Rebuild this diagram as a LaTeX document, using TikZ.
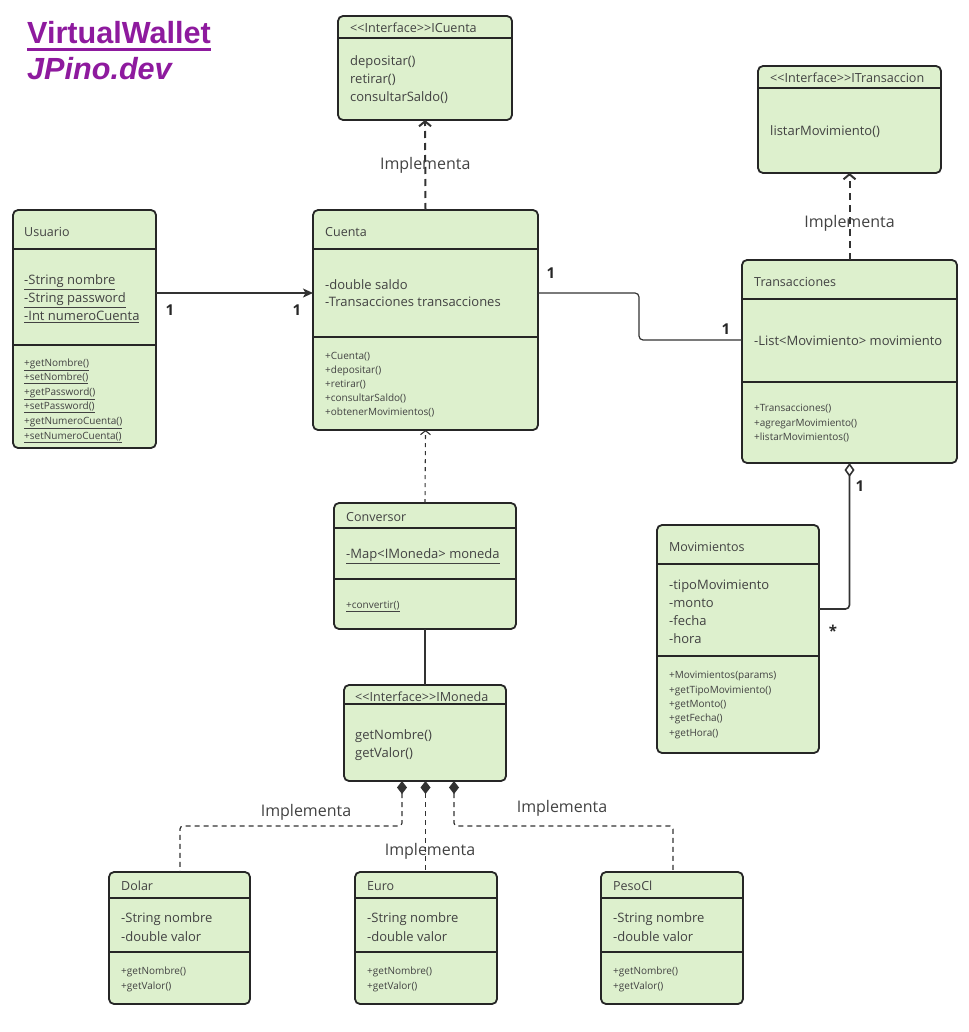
\documentclass[tikz,border=0pt]{standalone}
\usepackage{fontspec}
\setmainfont{Open Sans}
\newfontfamily\titlefont{Liberation Sans}
\usetikzlibrary{arrows.meta}
\definecolor{boxfill}{RGB}{221,240,205}
\definecolor{boxdraw}{RGB}{38,38,38}
\definecolor{txtc}{RGB}{66,66,66}
\definecolor{linec}{RGB}{50,50,50}
\definecolor{titlec}{RGB}{142,26,158}
\tikzset{
  cls/.style={draw=boxdraw, fill=boxfill, line width=1.8pt, rounded corners=5pt, inner sep=0pt, outer sep=0pt},
  div/.style={draw=boxdraw, line width=1.8pt},
  tx/.style={anchor=west, inner sep=0pt, text=txtc, text depth=0pt},
  ttl/.style={tx, text height=9pt, font=\fontsize{12.5}{14}\selectfont},
  hdr/.style={tx, text height=9pt, font=\fontsize{12.6}{14}\selectfont},
  att/.style={tx, text height=9.3pt, font=\fontsize{13}{15}\selectfont},
  mth/.style={tx, text height=7.2pt, font=\fontsize{10}{12}\selectfont},
  mult/.style={inner sep=0pt, text=boxdraw, font=\bfseries\fontsize{15}{17}\selectfont},
  lbl/.style={inner sep=0pt, text=txtc, font=\fontsize{16}{18}\selectfont},
  impl/.style={draw=linec, line width=2pt, dash pattern=on 7pt off 5pt, -{Straight Barb[length=5pt,width=12pt,line width=2pt]}},
  dep/.style={draw=linec, line width=1.1pt, dash pattern=on 4pt off 4pt, -{Straight Barb[length=4pt,width=10pt,line width=1.1pt]}},
  assoc/.style={draw=linec, line width=1.3pt},
  realz/.style={draw=linec, line width=1.2pt, dash pattern=on 5pt off 4pt, rounded corners=3pt},
}
\newcommand\clsbox[5]{\node[cls, minimum width={#4-#2}, minimum height={#5-#3}] (#1) at ({(#2+#4)/2},{(#3+#5)/2}) {};}
\newcommand\clsdiv[2]{\draw[div] (#1.west |- 0,#2) -- (#1.east |- 0,#2);}
\begin{document}
\begin{tikzpicture}[x=1pt,y=-1pt]
\useasboundingbox (0,0) rectangle (968,1032);

% title
\node[anchor=base west, inner sep=0pt, text=titlec, font=\titlefont\bfseries\fontsize{30.6}{34}\selectfont] (title1) at (27,44) {VirtualWallet};
\draw[titlec, line width=2.5pt] ([yshift=-5.5pt]title1.base west) -- ([yshift=-5.5pt]title1.base east);
\node[anchor=base west, inner sep=0pt, text=titlec, font=\titlefont\bfseries\itshape\fontsize{30.6}{34}\selectfont] (title2) at (27,80) {JPino.dev};

% ICuenta
\clsbox{icuenta}{338}{16}{512}{120}
\clsdiv{icuenta}{38}
\node[hdr] (icuenta-h) at (350,28) {<{}<Interface>{}>ICuenta};
\node[att] (icuenta-m1) at (350,61) {depositar()};
\node[att] (icuenta-m2) at (350,79) {retirar()};
\node[att] (icuenta-m3) at (350,97) {consultarSaldo()};

% ITransaccion
\clsbox{itrans}{758}{66}{941}{173}
\clsdiv{itrans}{88}
\node[hdr] (itrans-h) at (770,78) {<{}<Interface>{}>ITransaccion};
\node[att] (itrans-m1) at (770,131) {listarMovimiento()};

% Usuario
\clsbox{usuario}{13}{210}{156}{448}
\clsdiv{usuario}{249}
\clsdiv{usuario}{345}
\node[ttl] (usuario-t) at (24,232) {Usuario};
\node[att] (usuario-a1) at (24,280) {\underline{-String nombre}};
\node[att] (usuario-a2) at (24,298) {\underline{-String password}};
\node[att] (usuario-a3) at (24,316) {\underline{-Int numeroCuenta}};
\node[mth] (usuario-m1) at (24,363) {\underline{+getNombre()}};
\node[mth] (usuario-m2) at (24,377) {\underline{+setNombre()}};
\node[mth] (usuario-m3) at (24,392) {\underline{+getPassword()}};
\node[mth] (usuario-m4) at (24,406) {\underline{+setPassword()}};
\node[mth] (usuario-m5) at (24,421) {\underline{+getNumeroCuenta()}};
\node[mth] (usuario-m6) at (24,436) {\underline{+setNumeroCuenta()}};

% Cuenta
\clsbox{cuenta}{313}{210}{538}{430}
\clsdiv{cuenta}{249}
\clsdiv{cuenta}{337}
\node[ttl] (cuenta-t) at (325,232) {Cuenta};
\node[att] (cuenta-a1) at (325,285) {-double saldo};
\node[att] (cuenta-a2) at (325,302) {-Transacciones transacciones};
\node[mth] (cuenta-m1) at (325,356) {+Cuenta()};
\node[mth] (cuenta-m2) at (325,370) {+depositar()};
\node[mth] (cuenta-m3) at (325,384) {+retirar()};
\node[mth] (cuenta-m4) at (325,398) {+consultarSaldo()};
\node[mth] (cuenta-m5) at (325,412) {+obtenerMovimientos()};

% Transacciones
\clsbox{trans}{742}{260}{957}{463}
\clsdiv{trans}{299}
\clsdiv{trans}{382}
\node[ttl] (trans-t) at (754,282) {Transacciones};
\node[att] (trans-a1) at (754,341) {-List<Movimiento> movimiento};
\node[mth] (trans-m1) at (754,408) {+Transacciones()};
\node[mth] (trans-m2) at (754,423) {+agregarMovimiento()};
\node[mth] (trans-m3) at (754,437) {+listarMovimientos()};

% Conversor
\clsbox{conv}{334}{503}{516}{629}
\clsdiv{conv}{528}
\clsdiv{conv}{579}
\node[ttl] (conv-t) at (346,517) {Conversor};
\node[att] (conv-a1) at (346,554) {\underline{-Map<IMoneda> moneda}};
\node[mth] (conv-m1) at (346,605) {\underline{+convertir()}};

% IMoneda
\clsbox{imoneda}{344}{685}{506}{781}
\clsdiv{imoneda}{704}
\node[hdr] (imoneda-h) at (355,697) {<{}<Interface>{}>IMoneda};
\node[att] (imoneda-m1) at (355,735) {getNombre()};
\node[att] (imoneda-m2) at (355,753) {getValor()};

% Movimientos
\clsbox{movs}{657}{525}{819}{753}
\clsdiv{movs}{564}
\clsdiv{movs}{656}
\node[ttl] (movs-t) at (669,547) {Movimientos};
\node[att] (movs-a1) at (669,585) {-tipoMovimiento};
\node[att] (movs-a2) at (669,603) {-monto};
\node[att] (movs-a3) at (669,621) {-fecha};
\node[att] (movs-a4) at (669,639) {-hora};
\node[mth] (movs-m1) at (669,675) {+Movimientos(params)};
\node[mth] (movs-m2) at (669,690) {+getTipoMovimiento()};
\node[mth] (movs-m3) at (669,704) {+getMonto()};
\node[mth] (movs-m4) at (669,718) {+getFecha()};
\node[mth] (movs-m5) at (669,733) {+getHora()};

% Dolar
\clsbox{dolar}{109}{872}{250}{1004}
\clsdiv{dolar}{898}
\clsdiv{dolar}{952}
\node[ttl] (dolar-t) at (121,886) {Dolar};
\node[att] (dolar-a1) at (121,918) {-String nombre};
\node[att] (dolar-a2) at (121,937) {-double valor};
\node[mth] (dolar-m1) at (121,971) {+getNombre()};
\node[mth] (dolar-m2) at (121,986) {+getValor()};

% Euro
\clsbox{euro}{355}{872}{497}{1004}
\clsdiv{euro}{898}
\clsdiv{euro}{952}
\node[ttl] (euro-t) at (367,886) {Euro};
\node[att] (euro-a1) at (367,918) {-String nombre};
\node[att] (euro-a2) at (367,937) {-double valor};
\node[mth] (euro-m1) at (367,971) {+getNombre()};
\node[mth] (euro-m2) at (367,986) {+getValor()};

% PesoCl
\clsbox{peso}{601}{872}{743}{1004}
\clsdiv{peso}{898}
\clsdiv{peso}{952}
\node[ttl] (peso-t) at (613,886) {PesoCl};
\node[att] (peso-a1) at (613,918) {-String nombre};
\node[att] (peso-a2) at (613,937) {-double valor};
\node[mth] (peso-m1) at (613,971) {+getNombre()};
\node[mth] (peso-m2) at (613,986) {+getValor()};

% connectors
\draw[impl] (cuenta.north) -- node[lbl, pos=0.5] (lbl-ic) {Implementa} (icuenta.south);
\draw[impl] (trans.north) -- node[lbl, pos=0.425] (lbl-it) {Implementa} (itrans.south);
\draw[assoc, -{Stealth[length=10pt,width=9pt,inset=2.5pt]}] (usuario.east |- 0,293) -- (cuenta.west |- 0,293);
\node[mult] (m-u1) at (170,310) {1};
\node[mult] (m-u2) at (297,310) {1};
\draw[assoc, line width=1.2pt, rounded corners=4pt] (cuenta.east |- 0,293) -- (639,293) -- (639,340) -- (trans.west |- 0,340);
\node[mult] (m-c1) at (551,273) {1};
\node[mult] (m-t1) at (726,329) {1};
\draw[dep] (conv.north) -- (cuenta.south);
\draw[assoc, line width=1.1pt] (conv.south) -- (imoneda.north);
\draw[assoc, line width=1.6pt, rounded corners=4pt, {Diamond[open,length=14pt,width=10pt,line width=1.6pt]}-] (trans.south) -- (849.5,609) -- (movs.east |- 0,609);
\node[mult] (m-t2) at (860,486) {1};
\node[mult] (m-m1) at (833,631) {*};

\draw[realz, {Diamond[length=13pt,width=10pt]}-] (imoneda.south -| 402,0) -- (402,826) -- (180,826) -- (dolar.north -| 180,0);
\draw[realz, {Diamond[length=13pt,width=10pt]}-] (imoneda.south -| 425.5,0) -- (euro.north -| 425.5,0);
\draw[realz, {Diamond[length=13pt,width=10pt]}-] (imoneda.south -| 454,0) -- (454,826) -- (673,826) -- (peso.north -| 673,0);
\node[lbl] (lbl-d) at (306,812) {Implementa};
\node[lbl] (lbl-e) at (430,851) {Implementa};
\node[lbl] (lbl-p) at (562,808) {Implementa};
\end{tikzpicture}
\end{document}
